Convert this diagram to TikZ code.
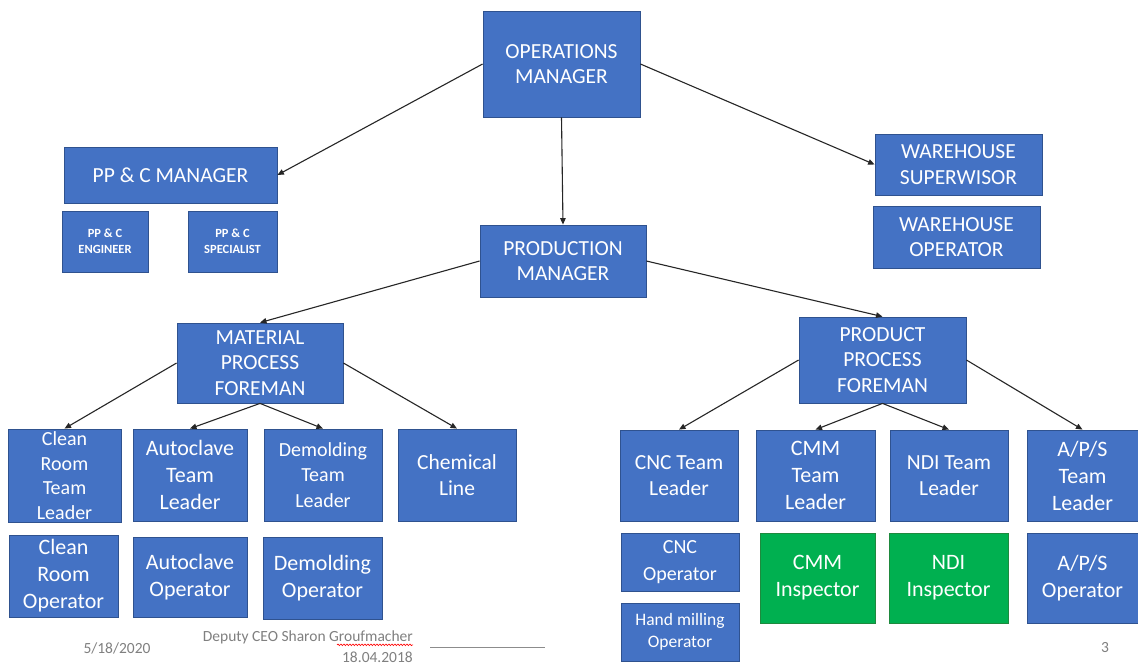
\documentclass[tikz,border=0pt]{standalone}
\usepackage{fontspec}
\setmainfont{Carlito}
\usetikzlibrary{arrows.meta,decorations.pathmorphing}
\definecolor{boxblue}{HTML}{4472C4}
\definecolor{boxedge}{HTML}{2F528F}
\definecolor{boxgreen}{HTML}{00B050}
\definecolor{greenedge}{HTML}{1E8A3E}
\begin{document}
\begin{tikzpicture}[x=1pt,y=-1pt,
  box/.style={draw=boxedge, line width=0.8pt, fill=boxblue, text=white, align=center, inner sep=0pt, font=\fontsize{21.5}{25.5}\selectfont},
  gbox/.style={box, fill=boxgreen, draw=greenedge},
  small/.style={font=\bfseries\fontsize{12.5}{16}\selectfont},
  big/.style={font=\fontsize{22}{27}\selectfont},
  arr/.style={-{Triangle[length=6.5pt,width=5.5pt]}, line width=1.1pt, draw=black!85},
  foot/.style={text=black!50, font=\fontsize{15.5}{18}\selectfont, inner sep=0pt}]
\useasboundingbox[fill=white] (0,0) rectangle (1138,664);

% top level
\node[box, minimum width=157pt, minimum height=106pt] (om) at (561.5,64) {OPERATIONS\\MANAGER};
\node[box, minimum width=213pt, minimum height=56pt] (ppm) at (170.5,175) {PP \& C MANAGER};
\node[box, small, minimum width=86pt, minimum height=61pt] (eng) at (105,241.5) {PP \& C\\ENGINEER};
\node[box, small, minimum width=89pt, minimum height=61pt] (spec) at (232.5,241.5) {PP \& C\\SPECIALIST};
\node[box, minimum width=167pt, minimum height=61pt] (ws) at (958.5,164.5) {WAREHOUSE\\SUPERWISOR};
\node[box, minimum width=167pt, minimum height=62pt] (wo) at (956.5,237) {WAREHOUSE\\OPERATOR};
\node[box, minimum width=166pt, minimum height=72pt] (pm) at (563,261) {PRODUCTION\\MANAGER};
\node[box, minimum width=166pt, minimum height=80pt] (mpf) at (260,363) {MATERIAL\\PROCESS\\FOREMAN};
\node[box, minimum width=167pt, minimum height=86pt] (ppf) at (882.5,360) {PRODUCT\\PROCESS\\FOREMAN};

% team leaders
\node[box, font=\fontsize{20}{24.5}\selectfont, minimum width=113pt, minimum height=93pt] (crtl) at (64.5,475.5) {Clean\\Room\\Team\\Leader};
\node[box, big, minimum width=114pt, minimum height=92pt] (atl) at (190,475) {Autoclave\\Team\\Leader};
\node[box, font=\fontsize{20}{25.5}\selectfont, minimum width=118pt, minimum height=92pt] (dtl) at (323,475) {Demolding\\Team\\Leader};
\node[box, minimum width=118pt, minimum height=92pt] (chem) at (457,475) {Chemical\\Line};
\node[box, minimum width=118pt, minimum height=91pt] (cnc) at (679,475.5) {CNC Team\\Leader};
\node[box, big, minimum width=119pt, minimum height=91pt] (cmm) at (815.5,475.5) {CMM\\Team\\Leader};
\node[box, minimum width=118pt, minimum height=91pt] (ndi) at (949,475.5) {NDI Team\\Leader};
\node[box, big, minimum width=111pt, minimum height=91pt] (aps) at (1082.5,475.5) {A/P/S\\Team\\Leader};

% operators
\node[box, big, minimum width=109pt, minimum height=82pt] (crop) at (63.5,576) {Clean\\Room\\Operator};
\node[box, big, minimum width=114pt, minimum height=80pt] (aop) at (190,577) {Autoclave\\Operator};
\node[box, big, minimum width=119pt, minimum height=82pt] (dop) at (322.5,578) {Demolding\\Operator};
\node[box, font=\fontsize{20}{27}\selectfont, minimum width=118pt, minimum height=58pt] (cop) at (680,562) {CNC\\Operator};
\node[box, font=\fontsize{17.5}{22}\selectfont, minimum width=118pt, minimum height=58pt] (hop) at (680,632) {Hand milling\\Operator};
\node[gbox, big, minimum width=115pt, minimum height=90pt] (cmi) at (817.5,578) {CMM\\Inspector};
\node[gbox, big, minimum width=119pt, minimum height=90pt] (ndii) at (948.5,578) {NDI\\Inspector};
\node[box, big, minimum width=111pt, minimum height=90pt] (apo) at (1082.5,578) {A/P/S\\Operator};

% connectors
\draw[arr] (om.west) -- (ppm.east);
\draw[arr] (om.east) -- (ws.west);
\draw[arr] (om.south) -- (pm.north);
\draw[arr] (pm.west) -- (mpf.north);
\draw[arr] (pm.east) -- (ppf.north);
\draw[arr] (mpf.west) -- (crtl.north);
\draw[arr] (mpf.south) -- (atl.north);
\draw[arr] (mpf.south) -- (dtl.north);
\draw[arr] (mpf.east) -- (chem.north);
\draw[arr] (ppf.west) -- (cnc.north);
\draw[arr] (ppf.south) -- (cmm.north);
\draw[arr] (ppf.south) -- (ndi.north);
\draw[arr] (ppf.east) -- (aps.north);

% footer
\node[foot] (date) at (117,648) {5/18/2020};
\node[foot, anchor=east] (dep) at (413,637) {Deputy CEO Sharon Groufmacher};
\node[foot, anchor=east] (dt2) at (413,657) {18.04.2018};
\coordinate (l1) at (430,647);
\coordinate (l2) at (545,647);
\draw[black!45, line width=0.8pt] (l1) -- (l2);
\node[foot] (pg) at (1105,648) {3};
\draw[red, line width=0.6pt, decorate, decoration={snake, amplitude=0.8pt, segment length=3pt}]
  ([xshift=-76pt,yshift=-1pt]dep.south east) -- ([yshift=-1pt]dep.south east);
\end{tikzpicture}
\end{document}
